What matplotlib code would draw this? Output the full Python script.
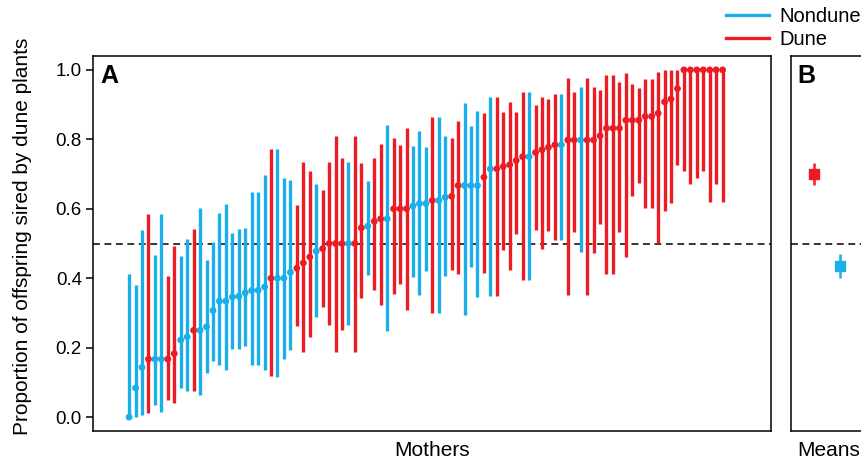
import matplotlib
matplotlib.use("Agg")
import matplotlib.pyplot as plt
from matplotlib.lines import Line2D
import numpy as np

plt.rcParams['font.family'] = ['Liberation Sans', 'DejaVu Sans']

# per-mother estimates (sorted), N = nondune mother, D = dune mother
group = ['N', 'N', 'N', 'D', 'N', 'N', 'D', 'D', 'N', 'N',
         'D', 'N', 'N', 'N', 'N', 'N', 'N', 'N', 'N', 'N',
         'N', 'N', 'D', 'N', 'N', 'N', 'D', 'D', 'D', 'N',
         'D', 'D', 'D', 'D', 'N', 'D', 'D', 'N', 'D', 'D',
         'N', 'D', 'D', 'D', 'N', 'N', 'N', 'D', 'N', 'N',
         'D', 'D', 'N', 'N', 'N', 'D', 'N', 'D', 'D', 'D',
         'D', 'D', 'N', 'D', 'D', 'D', 'D', 'N', 'D', 'D',
         'N', 'D', 'D', 'D', 'D', 'D', 'D', 'D', 'D', 'D',
         'D', 'D', 'D', 'D', 'D', 'D', 'D', 'D', 'D', 'D',
         'D', 'D', 'D']
prop = [0.000, 0.084, 0.143, 0.167, 0.167, 0.167, 0.167, 0.183, 0.222, 0.231,
        0.250, 0.250, 0.260, 0.307, 0.334, 0.334, 0.346, 0.348, 0.358, 0.365,
        0.365, 0.375, 0.400, 0.400, 0.400, 0.417, 0.429, 0.444, 0.461, 0.478,
        0.485, 0.500, 0.500, 0.500, 0.500, 0.500, 0.545, 0.550, 0.564, 0.571,
        0.571, 0.600, 0.600, 0.600, 0.608, 0.615, 0.615, 0.624, 0.624, 0.633,
        0.636, 0.667, 0.667, 0.667, 0.667, 0.691, 0.715, 0.715, 0.722, 0.727,
        0.739, 0.750, 0.750, 0.762, 0.770, 0.777, 0.784, 0.784, 0.798, 0.798,
        0.798, 0.798, 0.798, 0.810, 0.832, 0.832, 0.832, 0.855, 0.855, 0.855,
        0.866, 0.866, 0.875, 0.908, 0.916, 0.946, 1.000, 1.000, 1.000, 1.000,
        1.000, 1.000, 1.000]
upper = [0.413, 0.381, 0.540, 0.586, 0.466, 0.586, 0.406, 0.492, 0.463, 0.513,
         0.542, 0.602, 0.453, 0.505, 0.588, 0.614, 0.530, 0.542, 0.544, 0.649,
         0.649, 0.697, 0.772, 0.771, 0.690, 0.683, 0.612, 0.736, 0.710, 0.672,
         0.654, 0.734, 0.811, 0.747, 0.734, 0.811, 0.732, 0.679, 0.745, 0.786,
         0.842, 0.803, 0.783, 0.832, 0.780, 0.825, 0.778, 0.865, 0.865, 0.810,
         0.804, 0.852, 0.906, 0.839, 0.882, 0.875, 0.923, 0.923, 0.879, 0.908,
         0.879, 0.935, 0.935, 0.898, 0.923, 0.916, 0.932, 0.930, 0.976, 0.937,
         0.952, 0.976, 0.952, 0.943, 0.986, 0.986, 0.964, 0.992, 0.959, 0.949,
         0.973, 0.973, 0.995, 1.000, 1.000, 1.000, 1.000, 1.000, 1.000, 1.000,
         1.000, 1.000, 1.000]
lower = [0.000, 0.000, 0.007, 0.012, 0.035, 0.014, 0.049, 0.040, 0.084, 0.075,
         0.076, 0.064, 0.128, 0.163, 0.149, 0.135, 0.195, 0.195, 0.205, 0.149,
         0.149, 0.135, 0.118, 0.116, 0.167, 0.192, 0.262, 0.188, 0.231, 0.289,
         0.316, 0.265, 0.188, 0.251, 0.265, 0.188, 0.343, 0.410, 0.365, 0.322,
         0.248, 0.354, 0.382, 0.309, 0.403, 0.352, 0.421, 0.301, 0.301, 0.406,
         0.424, 0.411, 0.293, 0.432, 0.346, 0.416, 0.348, 0.348, 0.482, 0.424,
         0.528, 0.396, 0.396, 0.539, 0.485, 0.537, 0.511, 0.511, 0.353, 0.534,
         0.475, 0.353, 0.473, 0.557, 0.412, 0.412, 0.534, 0.461, 0.638, 0.673,
         0.602, 0.602, 0.501, 0.593, 0.617, 0.727, 0.708, 0.670, 0.690, 0.708,
         0.619, 0.670, 0.619]

# group means with error bars
mean_groups = ['D', 'N']
mean_vals = [0.700, 0.434]
mean_hi = [0.733, 0.470]
mean_lo = [0.668, 0.400]

blue = '#1CAEE8'
red = '#EC1C24'
col = {'N': blue, 'D': red}

fig = plt.figure(figsize=(8.62, 4.65), dpi=100)
axA = fig.add_axes([93/862, 1 - 431/465, (771-93)/862, (431-56)/465])
axB = fig.add_axes([791/862, 1 - 431/465, (866-791)/862, (431-56)/465])

x = np.arange(len(prop))
colors = [col[g] for g in group]
axA.vlines(x, lower, upper, colors=colors, linewidth=2.4)
axA.scatter(x, prop, s=24, c=colors, zorder=3, linewidths=0)
axA.axhline(0.5, color='black', linestyle=(0, (4.5, 3)), linewidth=1.1, zorder=0)
axA.set_xlim(-5.6, 99.5)
axA.set_ylim(-0.04, 1.04)
axA.set_xticks([])
axA.set_yticks(np.arange(0, 1.01, 0.2))
axA.set_yticklabels(['%.1f' % v for v in np.arange(0, 1.01, 0.2)])
axA.tick_params(axis='y', direction='out', length=5, width=1.1, pad=3, labelsize=13.5)
axA.set_xlabel('Mothers', fontsize=15, labelpad=7)
axA.set_ylabel('Proportion of offspring sired by dune plants', fontsize=15)
axA.yaxis.set_label_coords(-0.09, 0.52)
axA.text(0.011, 0.978, 'A', transform=axA.transAxes, fontsize=18,
         fontweight='bold', ha='left', va='top')

xb = np.arange(1, len(mean_vals) + 1)
for i in range(len(mean_vals)):
    c = col[mean_groups[i]]
    axB.vlines(xb[i], mean_lo[i], mean_hi[i], colors=c, linewidth=1.8)
    axB.plot(xb[i], mean_vals[i], marker='s', markersize=7.5, color=c)
axB.axhline(0.5, color='black', linestyle=(0, (4.5, 3)), linewidth=1.1, zorder=0)
axB.set_xlim(0.115, 3.0)
axB.set_ylim(-0.04, 1.04)
axB.set_xticks([])
axB.set_yticks([])
axB.set_xlabel('Means', fontsize=15, labelpad=7)
axB.text(0.08, 0.978, 'B', transform=axB.transAxes, fontsize=18,
         fontweight='bold', ha='left', va='top')

for ax in (axA, axB):
    for sp in ax.spines.values():
        sp.set_linewidth(1.1)

handles = [Line2D([0], [0], color=blue, linewidth=2.4),
           Line2D([0], [0], color=red, linewidth=2.4)]
fig.legend(handles, ['Nondune', 'Dune'], loc='upper left',
           bbox_to_anchor=(722/862, 1 - 3/465), frameon=False, fontsize=14.5,
           handlelength=2.15, handletextpad=0.5, labelspacing=0.18,
           borderpad=0.2, borderaxespad=0)

fig.savefig('out.png', dpi=100)
